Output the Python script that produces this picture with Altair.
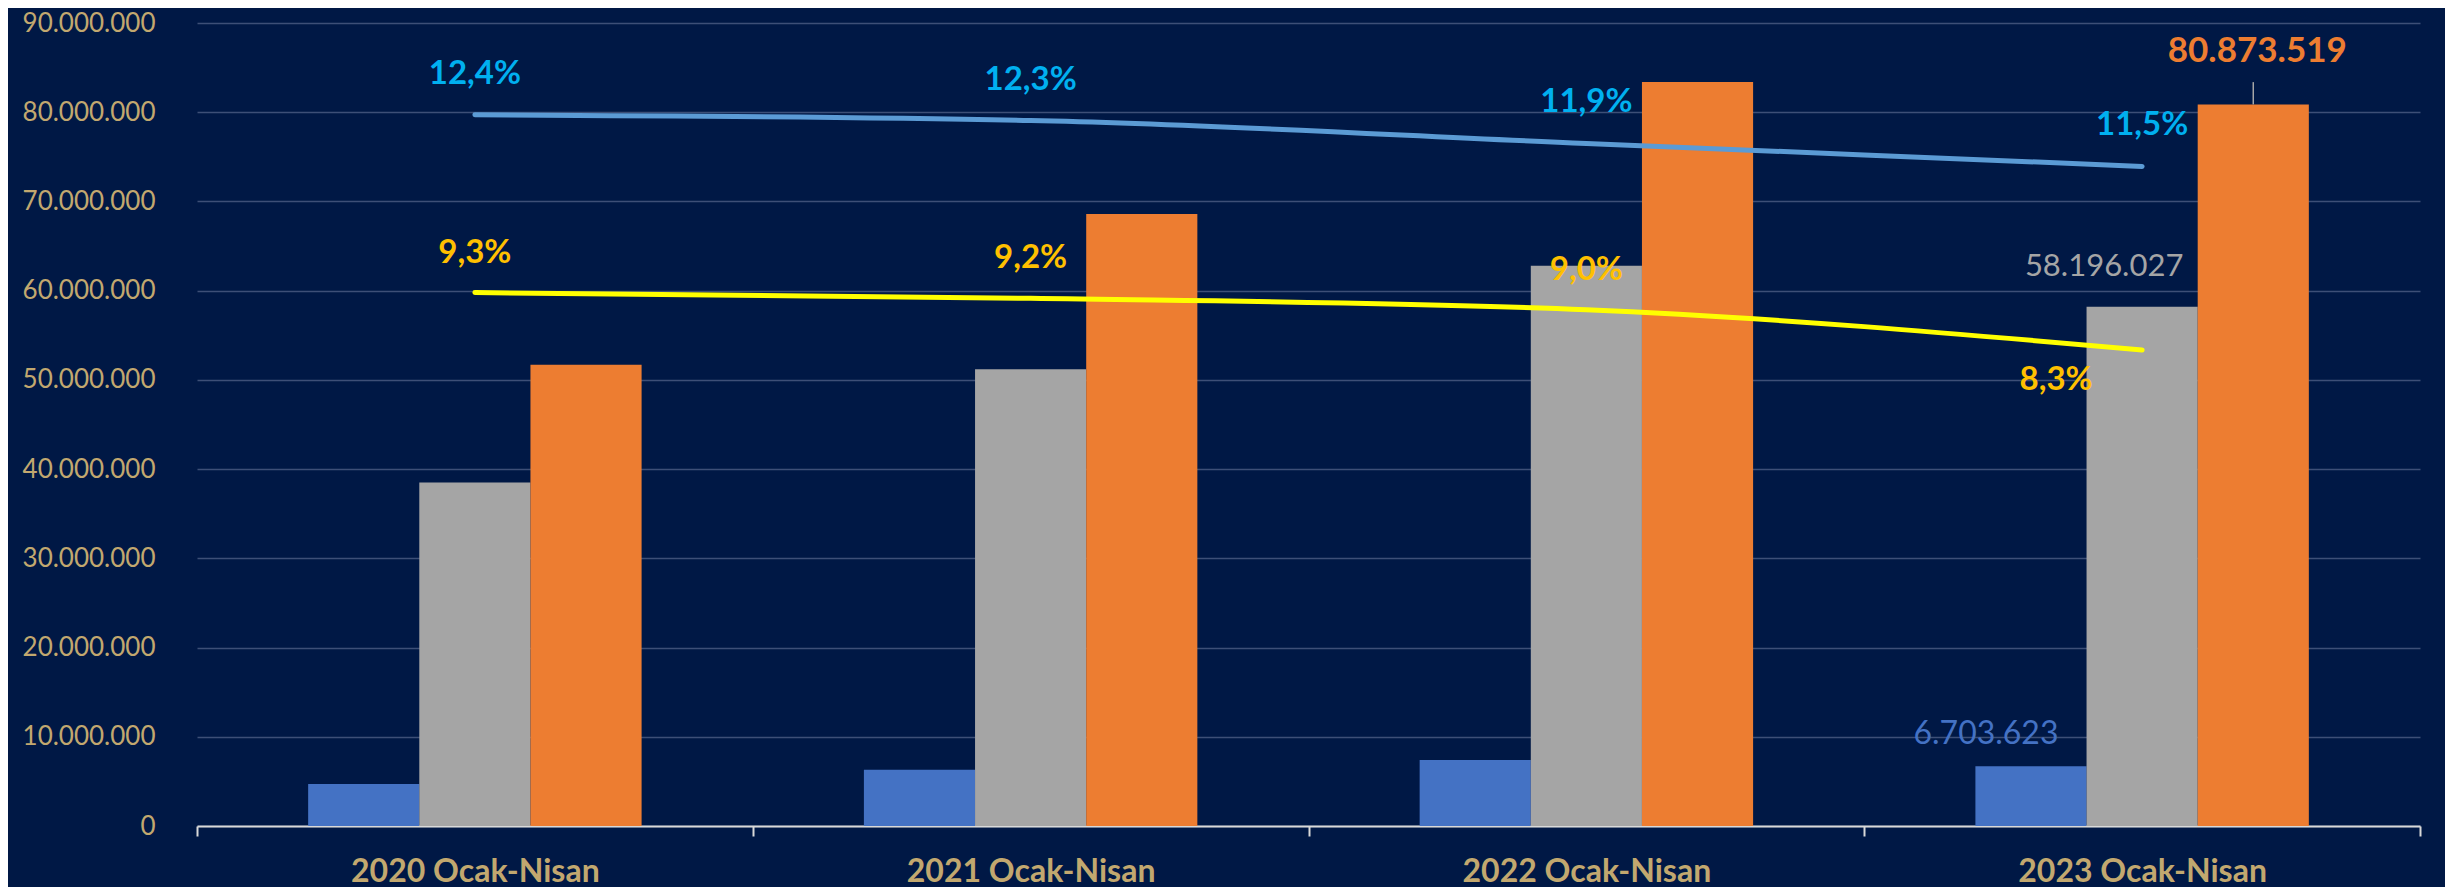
import altair as alt
import pandas as pd
import json

periods = ["2020 Ocak-Nisan", "2021 Ocak-Nisan", "2022 Ocak-Nisan", "2023 Ocak-Nisan"]
series_names = ["Seri 1", "Seri 2", "Seri 3"]
series_colors = ["#4472c4", "#a5a5a5", "#ed7d31"]

blue_vals = [4_700_000, 6_300_000, 7_400_000, 6_703_623]
gray_vals = [38_500_000, 51_200_000, 62_800_000, 58_196_027]
orange_vals = [51_700_000, 68_600_000, 83_400_000, 80_873_519]

pct_blue = [12.4, 12.3, 11.9, 11.5]
pct_yellow = [9.3, 9.2, 9.0, 8.3]

FONT = "Lato"
GOLD = "#c2a86f"
BG = "#001845"

rows = []
for s, vals in zip(series_names, [blue_vals, gray_vals, orange_vals]):
    for p, v in zip(periods, vals):
        rows.append({"period": p, "series": s, "value": v,
                     "label": f"{v:,}".replace(",", ".")})
bar_df = pd.DataFrame(rows)

prow = []
for name, vals in [("blue", pct_blue), ("yellow", pct_yellow)]:
    for p, v in zip(periods, vals):
        prow.append({"period": p, "line": name, "pct": v,
                     "plabel": f"{v:.1f}".replace(".", ",") + "%"})
pct_df = pd.DataFrame(prow)

x_enc = alt.X(
    "period:N", sort=periods,
    scale=alt.Scale(paddingInner=0, paddingOuter=0),
    axis=alt.Axis(
        title=None, labelAngle=0, labelFont=FONT, labelFontWeight="bold",
        labelFontSize=32, labelColor=GOLD, labelPadding=20, labelLimit=600,
        tickBand="extent", tickSize=10, tickColor="#d9d9d9", tickWidth=2,
        domainColor="#d9d9d9", domainWidth=2, grid=False,
    ),
)
xoff = alt.XOffset("series:N", sort=series_names,
                   scale=alt.Scale(paddingInner=0, paddingOuter=1))
y_val_scale = alt.Scale(domain=[0, 90_000_000], nice=False)
y_pct_scale = alt.Scale(domain=[0, 14], nice=False)

bars = alt.Chart(bar_df).mark_bar().encode(
    x=x_enc,
    xOffset=xoff,
    y=alt.Y("value:Q", scale=y_val_scale,
            axis=alt.Axis(
                title=None, values=list(range(0, 90_000_001, 10_000_000)),
                labelExpr="join(split(format(datum.value, ','), ','), '.')",
                labelFont=FONT, labelFontSize=26, labelColor=GOLD,
                labelPadding=42, ticks=False, domain=False,
                grid=True, gridColor="#3d4f77", gridWidth=1.5,
            )),
    color=alt.Color("series:N", sort=series_names,
                    scale=alt.Scale(domain=series_names, range=series_colors),
                    legend=None),
)


def bar_label(series, color, dx, dy, size, weight="normal"):
    return alt.Chart(bar_df).transform_filter(
        (alt.datum.period == periods[-1]) & (alt.datum.series == series)
    ).mark_text(
        dx=dx, dy=dy, font=FONT, fontSize=size, fontWeight=weight, color=color,
        baseline="middle", align="center",
    ).encode(
        x=alt.X("period:N", sort=periods),
        xOffset=xoff,
        y=alt.Y("value:Q", scale=y_val_scale, axis=None),
        text="label:N",
    )


lbl_blue = bar_label(series_names[0], "#4472c4", -45, -32, 32)
lbl_gray = bar_label(series_names[1], "#a5a5a5", -38, -40, 31)
lbl_orange = bar_label(series_names[2], "#ed7d31", 4, -53, 35, "bold")

leader = alt.Chart(bar_df).transform_filter(
    (alt.datum.period == periods[-1]) & (alt.datum.series == series_names[2])
).transform_calculate(
    top="datum.value + 2500000"
).mark_rule(color="#a6a6a6", strokeWidth=1.5).encode(
    x=alt.X("period:N", sort=periods),
    xOffset=xoff,
    y=alt.Y("value:Q", scale=y_val_scale, axis=None),
    y2="top:Q",
)


def pct_line(name, color):
    return alt.Chart(pct_df).transform_filter(alt.datum.line == name).mark_line(
        color=color, strokeWidth=5, strokeCap="round", interpolate="monotone"
    ).encode(
        x=alt.X("period:N", sort=periods),
        y=alt.Y("pct:Q", scale=y_pct_scale, axis=None),
    )


def pct_text(name, color, dx, dy, which):
    expr = f"datum.line == '{name}' && indexof({json.dumps(which)}, datum.period) >= 0"
    return alt.Chart(pct_df).transform_filter(expr).mark_text(
        dx=dx, dy=dy, font=FONT, fontSize=33, fontWeight="bold", color=color,
        baseline="middle", align="center",
    ).encode(
        x=alt.X("period:N", sort=periods),
        y=alt.Y("pct:Q", scale=y_pct_scale, axis=None),
        text="plabel:N",
    )


line_blue = pct_line("blue", "#5b9bd5")
line_yellow = pct_line("yellow", "#ffff00")
txt_blue = pct_text("blue", "#00b0f0", 0, -41, periods)
txt_yellow = pct_text("yellow", "#ffc000", 0, -40, periods[:3])
txt_yellow_last = pct_text("yellow", "#ffc000", -86, 30, periods[3:])

chart = alt.layer(
    bars, leader, line_blue, line_yellow,
    lbl_blue, lbl_gray, lbl_orange,
    txt_blue, txt_yellow, txt_yellow_last,
).resolve_scale(
    y="independent"
).properties(
    width=2223, height=803,
    autosize=alt.AutoSizeParams(type="none"),
    padding={"left": 189, "top": 15, "right": 25, "bottom": 61},
    background=BG,
).configure_view(
    stroke=None
)

chart.save("out.html", embed_options={"renderer": "svg", "actions": False})
